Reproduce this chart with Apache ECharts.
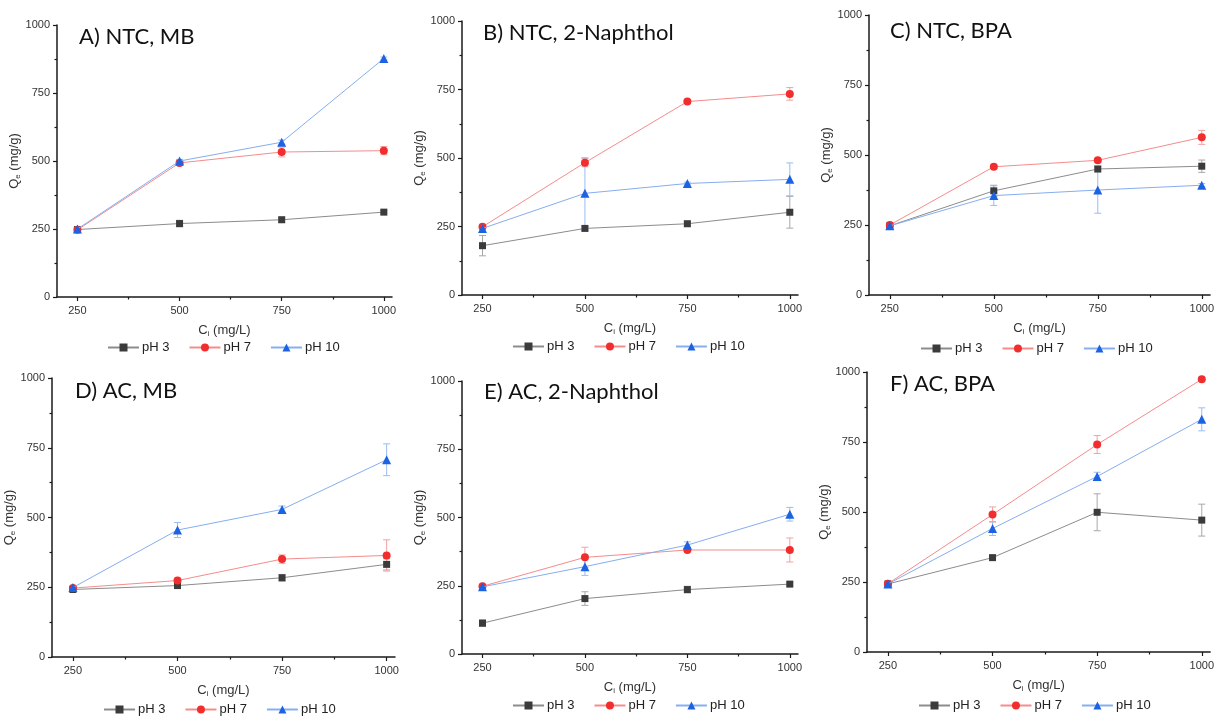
<!DOCTYPE html>
<html>
<head>
<meta charset="utf-8">
<script src="https://cdn.jsdelivr.net/npm/echarts@6/dist/echarts.min.js"></script>
<style>
  html, body { margin: 0; padding: 0; background: #fff; }
  #chart { width: 1217px; height: 721px; }
</style>
</head>
<body>
<div id="chart"></div>
<script>
// Initial concentration (mg/L) shared by every panel
const concentrations = [250, 500, 750, 1000];
const xTickLabels = [250, 500, 750, 1000];
const xMinorTicks = [375, 625, 875];
const seriesNames = ['pH 3', 'pH 7', 'pH 10'];
const panelTitles = ['A) NTC, MB', 'B) NTC, 2-Naphthol', 'C) NTC, BPA',
                     'D) AC, MB', 'E) AC, 2-Naphthol', 'F) AC, BPA'];

// Adsorption capacity Qe (mg/g), one array per panel and pH
const ntcMB_pH3 = [248, 270, 284, 312];
const ntcMB_pH7 = [247, 493, 533, 538];
const ntcMB_pH10 = [250, 500, 569, 877];
const ntcMB_err_pH3 = [5, 12, 10, 6];
const ntcMB_err_pH7 = [5, 8, 18, 15];
const ntcMB_err_pH10 = [5, 6, 8, 5];

const ntcNap_pH3 = [180, 243, 260, 302];
const ntcNap_pH7 = [249, 483, 706, 734];
const ntcNap_pH10 = [243, 371, 407, 422];
const ntcNap_err_pH3 = [37, 8, 10, 58];
const ntcNap_err_pH7 = [6, 15, 6, 23];
const ntcNap_err_pH10 = [6, 130, 5, 60];

const ntcBPA_pH3 = [247, 372, 450, 460];
const ntcBPA_pH7 = [250, 458, 481, 563];
const ntcBPA_pH10 = [247, 355, 375, 392];
const ntcBPA_err_pH3 = [5, 20, 10, 22];
const ntcBPA_err_pH7 = [4, 5, 6, 25];
const ntcBPA_err_pH10 = [5, 35, 83, 6];

const acMB_pH3 = [242, 256, 284, 332];
const acMB_pH7 = [247, 274, 351, 364];
const acMB_pH10 = [249, 455, 529, 707];
const acMB_err_pH3 = [5, 6, 12, 20];
const acMB_err_pH7 = [5, 8, 15, 56];
const acMB_err_pH10 = [5, 27, 12, 57];

const acNap_pH3 = [113, 203, 236, 256];
const acNap_pH7 = [248, 354, 381, 381];
const acNap_pH10 = [246, 320, 399, 512];
const acNap_err_pH3 = [12, 25, 12, 6];
const acNap_err_pH7 = [5, 37, 6, 44];
const acNap_err_pH10 = [5, 32, 12, 25];

const acBPA_pH3 = [243, 337, 499, 471];
const acBPA_pH7 = [244, 491, 741, 974];
const acBPA_pH10 = [243, 441, 627, 831];
const acBPA_err_pH3 = [5, 6, 66, 57];
const acBPA_err_pH7 = [5, 27, 32, 6];
const acBPA_err_pH10 = [5, 25, 15, 41];

const panelValues = [
  [ntcMB_pH3, ntcMB_pH7, ntcMB_pH10],
  [ntcNap_pH3, ntcNap_pH7, ntcNap_pH10],
  [ntcBPA_pH3, ntcBPA_pH7, ntcBPA_pH10],
  [acMB_pH3, acMB_pH7, acMB_pH10],
  [acNap_pH3, acNap_pH7, acNap_pH10],
  [acBPA_pH3, acBPA_pH7, acBPA_pH10]
];
const panelErrors = [
  [ntcMB_err_pH3, ntcMB_err_pH7, ntcMB_err_pH10],
  [ntcNap_err_pH3, ntcNap_err_pH7, ntcNap_err_pH10],
  [ntcBPA_err_pH3, ntcBPA_err_pH7, ntcBPA_err_pH10],
  [acMB_err_pH3, acMB_err_pH7, acMB_err_pH10],
  [acNap_err_pH3, acNap_err_pH7, acNap_err_pH10],
  [acBPA_err_pH3, acBPA_err_pH7, acBPA_err_pH10]
];

// Plot boxes (px) for the 2 x 3 panel layout
const boxes = [
  { left: 57, top: 25, width: 335, height: 272 },
  { left: 462, top: 21, width: 336, height: 274 },
  { left: 869, top: 15, width: 344, height: 280 },
  { left: 52, top: 378, width: 343, height: 279 },
  { left: 462, top: 381, width: 336, height: 273 },
  { left: 867, top: 372, width: 347, height: 280 }
];
const titlePos = [
  { left: 79, top: 26 }, { left: 483, top: 22 }, { left: 890, top: 20 },
  { left: 75, top: 380 }, { left: 484, top: 381 }, { left: 890, top: 373 }
];
const legendPos = [
  { left: 107, top: 341 }, { left: 512, top: 340 }, { left: 920, top: 342 },
  { left: 103, top: 703 }, { left: 512, top: 699 }, { left: 918, top: 699 }
];

const symbolColors = ['#3b3b3b', '#f22d2d', '#1c63e3'];
const lineColors = ['#8c8c8c', '#f58c8c', '#86aef0'];
const errColors = ['#a8a8a8', '#f5a0a0', '#9bbcf2'];
const symbols = ['rect', 'circle', 'triangle'];
const symbolSizes = [7, 8, 9];

const labelFont = 'Liberation Sans';
const axisColor = '#1a1a1a';
const textColor = '#333';

const grids = [], xAxes = [], yAxes = [], series = [], titles = [], legends = [];

boxes.forEach((b, p) => {
  grids.push({ left: b.left, top: b.top, width: b.width, height: b.height, containLabel: false });

  // main x axis with labelled ticks
  xAxes.push({
    type: 'value', gridIndex: p, min: 200, max: 1020,
    axisLine: { show: true, lineStyle: { color: axisColor, width: 1.5 } },
    axisTick: { show: true, inside: false, length: 4, customValues: xTickLabels,
                lineStyle: { color: axisColor, width: 1.2 } },
    axisLabel: { show: true, customValues: xTickLabels, margin: 8,
                 formatter: v => String(v),
                 fontFamily: labelFont, fontSize: 11, color: textColor },
    splitLine: { show: false },
    name: '{b|C}{s|i}{b| (mg/L)}', nameLocation: 'middle', nameGap: 25,
    nameTextStyle: {
      rich: {
        b: { fontFamily: labelFont, fontSize: 13, color: textColor, lineHeight: 16 },
        s: { fontFamily: labelFont, fontSize: 8, color: textColor, lineHeight: 16, padding: [7, 0, 0, 0] }
      }
    }
  });
  // companion axis carrying the minor ticks only
  xAxes.push({
    type: 'value', gridIndex: p, min: 200, max: 1020, position: 'bottom',
    axisLine: { show: false },
    axisTick: { show: true, inside: false, length: 2.5, customValues: xMinorTicks,
                lineStyle: { color: axisColor, width: 1.2 } },
    axisLabel: { show: false },
    splitLine: { show: false }
  });

  yAxes.push({
    type: 'value', gridIndex: p, min: 0, max: 1000, interval: 250,
    axisLine: { show: true, lineStyle: { color: axisColor, width: 1.5 } },
    axisTick: { show: true, inside: false, length: 4, lineStyle: { color: axisColor, width: 1.2 } },
    minorTick: { show: true, splitNumber: 2, length: 2.5, lineStyle: { color: axisColor, width: 1.2 } },
    axisLabel: { margin: 7, formatter: v => String(v),
                 fontFamily: labelFont, fontSize: 11, color: textColor },
    splitLine: { show: false },
    name: '{b|Q}{s|e}{b| (mg/g)}', nameLocation: 'middle', nameGap: 28, nameRotate: 90,
    nameTextStyle: {
      rich: {
        b: { fontFamily: labelFont, fontSize: 13, color: textColor, lineHeight: 16 },
        s: { fontFamily: labelFont, fontSize: 8, color: textColor, lineHeight: 16, padding: [7, 0, 0, 0] }
      }
    }
  });

  titles.push({
    text: panelTitles[p], left: titlePos[p].left, top: titlePos[p].top, padding: 0,
    textStyle: { fontFamily: 'Lato', fontSize: 22, fontWeight: 'normal', color: '#111' }
  });

  legends.push({
    data: seriesNames, left: legendPos[p].left, top: legendPos[p].top, padding: 0,
    orient: 'horizontal', itemWidth: 31, itemHeight: 10, itemGap: 19,
    selectedMode: false,
    textStyle: { fontFamily: labelFont, fontSize: 13, color: '#222', padding: [0, 0, 0, -2] }
  });

  // connected markers for each pH
  seriesNames.forEach((name, k) => {
    series.push({
      type: 'line', name: name, xAxisIndex: 2 * p, yAxisIndex: p,
      data: concentrations.map((c, i) => [c, panelValues[p][k][i]]),
      symbol: symbols[k], symbolSize: symbolSizes[k],
      itemStyle: { color: symbolColors[k] },
      lineStyle: { color: lineColors[k], width: 1 },
      z: 3 + k, animation: false
    });
  });
  // vertical error bars with caps
  seriesNames.forEach((name, k) => {
    series.push({
      type: 'custom', name: name, xAxisIndex: 2 * p, yAxisIndex: p,
      data: concentrations.map((c, i) => [c, panelValues[p][k][i], panelErrors[p][k][i]]),
      encode: { x: 0, y: 1 },
      z: 2, animation: false, silent: true,
      renderItem: function (params, api) {
        const x = api.value(0), y = api.value(1), e = api.value(2);
        const hi = api.coord([x, y + e]);
        const lo = api.coord([x, y - e]);
        const cap = 3.5;
        const style = { stroke: errColors[k], lineWidth: 1 };
        return {
          type: 'group',
          children: [
            { type: 'line', shape: { x1: hi[0], y1: hi[1], x2: lo[0], y2: lo[1] }, style: style },
            { type: 'line', shape: { x1: hi[0] - cap, y1: hi[1], x2: hi[0] + cap, y2: hi[1] }, style: style },
            { type: 'line', shape: { x1: lo[0] - cap, y1: lo[1], x2: lo[0] + cap, y2: lo[1] }, style: style }
          ]
        };
      }
    });
  });
});

const chart = echarts.init(document.getElementById('chart'), null, { renderer: 'canvas' });
chart.setOption({
  backgroundColor: '#fff',
  animation: false,
  title: titles,
  legend: legends,
  grid: grids,
  xAxis: xAxes,
  yAxis: yAxes,
  series: series
});
</script>
</body>
</html>
